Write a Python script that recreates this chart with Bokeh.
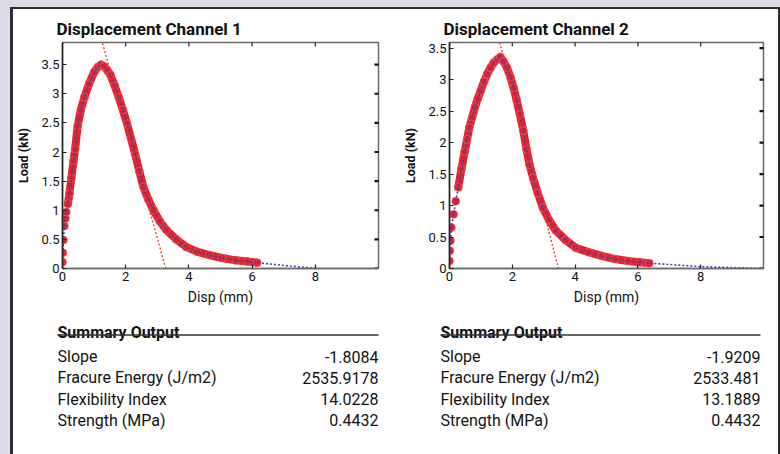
import math
from bokeh.plotting import figure
from bokeh.models import Range1d, FixedTicker, Column, Row
from bokeh.embed import file_html
from bokeh.resources import INLINE
from bokeh.core.properties import value

FONT = "Roboto"

# ---------------- data ----------------
ch1_disp = [0.00, 0.01, 0.03, 0.06, 0.09, 0.12, 0.17, 0.22, 0.28, 0.35, 0.40, 0.48,
            0.58, 0.69, 0.84, 1.00, 1.12, 1.22, 1.32, 1.42, 1.52, 1.65, 1.78, 1.91,
            2.04, 2.17, 2.30, 2.43, 2.56, 2.72, 2.88, 3.08, 3.29, 3.60, 3.92, 4.25,
            4.65, 5.05, 5.48, 5.85, 6.16]
ch1_load = [0.11, 0.27, 0.49, 0.73, 0.86, 0.97, 1.11, 1.29, 1.55, 1.85, 2.05, 2.45,
            2.72, 2.94, 3.17, 3.37, 3.46, 3.50, 3.47, 3.40, 3.32, 3.14, 2.94, 2.72,
            2.49, 2.23, 1.96, 1.67, 1.40, 1.18, 1.00, 0.81, 0.66, 0.50, 0.37, 0.29,
            0.23, 0.18, 0.14, 0.12, 0.10]
ch1_tail_disp = [6.16, 7.04, 7.98]
ch1_tail_load = [0.10, 0.05, 0.005]
ch1_tangent_slope = -1.93
ch1_tangent_x0 = 3.27

ch2_disp = [0.00, 0.01, 0.03, 0.06, 0.13, 0.20, 0.28, 0.38, 0.48, 0.56, 0.63, 0.72,
            0.81, 0.90, 0.99, 1.10, 1.20, 1.31, 1.41, 1.52, 1.62, 1.72, 1.83, 1.94,
            2.04, 2.14, 2.24, 2.35, 2.45, 2.55, 2.66, 2.81, 2.97, 3.17, 3.39, 3.70,
            4.02, 4.43, 4.85, 5.27, 5.68, 6.05, 6.36]
ch2_load = [0.12, 0.28, 0.44, 0.65, 0.86, 1.07, 1.29, 1.58, 1.85, 2.05, 2.24, 2.40,
            2.56, 2.70, 2.82, 2.97, 3.09, 3.19, 3.27, 3.32, 3.36, 3.29, 3.19, 3.04,
            2.87, 2.67, 2.45, 2.19, 1.90, 1.65, 1.44, 1.20, 0.97, 0.77, 0.60, 0.45,
            0.33, 0.26, 0.20, 0.15, 0.12, 0.10, 0.085]
ch2_tail_disp = [6.36, 8.00, 10.00]
ch2_tail_load = [0.085, 0.03, 0.0]
ch2_tangent_slope = -1.9209
ch2_tangent_x0 = 3.47

x_ticks = [0, 2, 4, 6, 8]
x_tick_labels = ["0", "2", "4", "6", "8"]
y_ticks = [0, 0.5, 1, 1.5, 2, 2.5, 3, 3.5]
y_tick_labels = ["0", "0.5", "1", "1.5", "2", "2.5", "3", "3.5"]

titles = ["Displacement Channel 1", "Displacement Channel 2"]
summary_title = "Summary Output"
summary_labels = ["Slope", "Fracure Energy (J/m2)", "Flexibility Index", "Strength (MPa)"]
ch1_summary = ["-1.8084", "2535.9178", "14.0228", "0.4432"]
ch2_summary = ["-1.9209", "2533.481", "13.1889", "0.4432"]

RED = "#e3222b"
BLUE = "#3346b5"
INK = "#111111"


def make_chart(title, disp, load, tail_d, tail_l, slope, x0, y_top, width, left, right):
    p = figure(width=width, height=300, x_range=Range1d(0, 10), y_range=Range1d(0, y_top),
               output_backend="svg", toolbar_location=None,
               min_border_left=left, min_border_right=right, min_border_top=33, min_border_bottom=41,
               background_fill_color="white", border_fill_color="white",
               outline_line_color="#6a6a6a", outline_line_width=1.5)
    p.grid.visible = False
    p.title.text = title
    p.title.text_font = FONT
    p.title.text_font_style = "bold"
    p.title.text_font_size = "17px"
    p.title.text_color = INK
    p.title.align = "left"
    p.title.offset = -6
    p.title.standoff = 8

    p.xaxis.ticker = FixedTicker(ticks=x_ticks)
    p.xaxis.major_label_overrides = {t: s for t, s in zip(x_ticks, x_tick_labels)}
    p.yaxis.ticker = FixedTicker(ticks=y_ticks)
    p.yaxis.major_label_overrides = {t: s for t, s in zip(y_ticks, y_tick_labels)}
    for ax in p.axis:
        ax.major_tick_in = 4
        ax.major_tick_out = 0
        ax.minor_tick_in = 0
        ax.minor_tick_out = 0
        ax.major_tick_line_color = "#222222"
        ax.major_tick_line_width = 1.2
        ax.major_label_text_font = FONT
        ax.major_label_text_font_size = "13px"
        ax.major_label_text_color = INK
        ax.major_label_standoff = 3
        ax.axis_label_text_font = FONT
        ax.axis_label_text_color = INK
        ax.axis_label_text_font_style = "normal"
    p.yaxis.axis_line_color = "#222222"
    p.yaxis.axis_line_width = 1.5
    p.xaxis.axis_line_color = "#6a6a6a"
    p.xaxis.axis_line_width = 1.5
    p.xaxis.axis_label = "Disp (mm)"
    p.xaxis.axis_label_text_font_size = "14px"
    p.xaxis.axis_label_standoff = 5
    p.yaxis.axis_label = "Load (kN)"
    p.yaxis.axis_label_text_font_size = "12.5px"
    p.yaxis.axis_label_text_font_style = "bold"
    p.yaxis.axis_label_standoff = 7

    # inner tick marks on the top and right frame edges (half of each dash is clipped away)
    p.scatter(x_ticks, [y_top] * len(x_ticks), marker="dash", angle=math.pi / 2, size=8,
              line_color="#222222", line_width=1.2)
    p.scatter([10] * len(y_ticks), y_ticks, marker="dash", size=8,
              line_color="#111111", line_width=2.2)

    # red band (overlapping markers)
    p.line(disp[6:], load[6:], line_color=RED, line_width=8, line_cap="round", line_join="round")
    p.scatter(disp, load, size=8, fill_color=RED, line_color="#f06a70", line_width=0.6)
    # tangent line
    p.line([0, x0], [slope * (0 - x0), 0], line_color="#ff2a2a", line_width=1.3, line_dash="2 2")
    # blue dotted data/fit line
    p.line(list(disp) + list(tail_d[1:]), list(load) + list(tail_l[1:]),
           line_color=BLUE, line_width=1.6, line_dash="2 2")
    return p


def make_table(values, width, x_left, x_right):
    t = figure(width=width, height=155, x_range=Range1d(0, width), y_range=Range1d(155, 0),
               output_backend="svg", toolbar_location=None, min_border=0,
               x_axis_type=None, y_axis_type=None, outline_line_color=None,
               background_fill_color="white", border_fill_color="white")
    t.grid.visible = False
    t.text(x=[x_left], y=[22.5], text=[summary_title], text_font=value(FONT), text_font_style="bold",
           text_font_size="16px", text_color=INK, text_baseline="alphabetic")
    t.segment(x0=[x_left], y0=[25.5], x1=[x_right], y1=[25.5], line_color="#333333", line_width=1.3)
    row_y = [47 + 21.3 * i for i in range(len(summary_labels))]
    t.text(x=[x_left] * len(summary_labels), y=row_y, text=summary_labels, text_font=value(FONT),
           text_font_size="16px", text_color=INK, text_baseline="alphabetic")
    t.text(x=[x_right] * len(values), y=row_y, text=values, text_font=value(FONT),
           text_font_size="16px", text_color=INK, text_baseline="alphabetic", text_align="right")
    return t


f1 = make_chart(titles[0], ch1_disp, ch1_load, ch1_tail_disp, ch1_tail_load,
                ch1_tangent_slope, ch1_tangent_x0, 3.88, 387, 45, 22)
f2 = make_chart(titles[1], ch2_disp, ch2_load, ch2_tail_disp, ch2_tail_load,
                ch2_tangent_slope, ch2_tangent_x0, 3.59, 378, 41, 15)
t1 = make_table(ch1_summary, 387, 44, 365)
t2 = make_table(ch2_summary, 378, 40, 360)

layout = Column(children=[Row(children=[f1, f2]), Row(children=[t1, t2])],
                styles={"border-left": "3px solid #2e2e2e", "border-top": "2px solid #2e2e2e",
                        "border-right": "2px solid #2e2e2e", "margin-left": "10px",
                        "margin-top": "7px", "background-color": "white"})

html = file_html(layout, INLINE)
html = html.replace("</head>",
                    "<style>html, body { background-color: #dcdce9; overflow: hidden; }</style></head>", 1)
open("out.html", "w").write(html)
